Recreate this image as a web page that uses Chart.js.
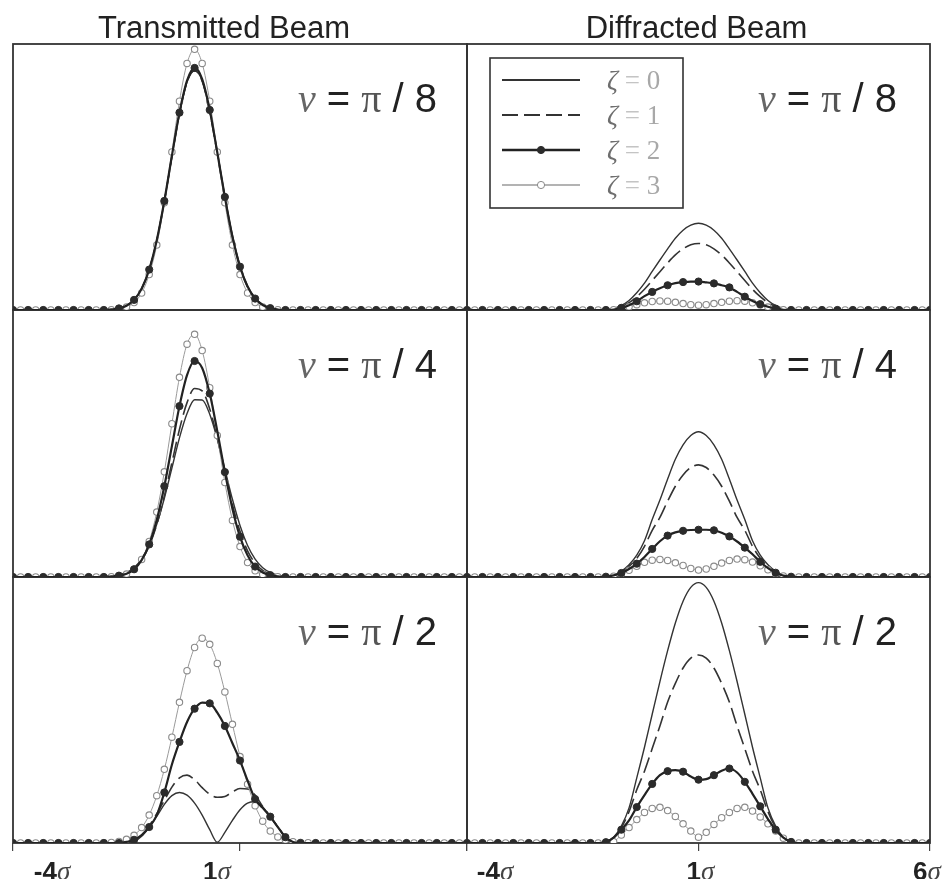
<!doctype html>
<html>
<head>
<meta charset="utf-8">
<title>Transmitted and Diffracted Beam</title>
<script src="https://cdn.jsdelivr.net/npm/chart.js@4.4.1/dist/chart.umd.min.js"></script>
<style>
  html, body { margin: 0; padding: 0; background: #fff; }
  #holder { width: 948px; height: 879px; overflow: hidden; }
</style>
</head>
<body>
<div id="holder"><canvas id="beams" width="948" height="879"></canvas></div>
<script>
// positions along the beam: -4 sigma .. 6 sigma in steps of sigma / 6
const xs = Array.from({length: 61}, (_, i) => -4 + i / 6);
const xTicks = [-4, 1, 6];
const nuDenoms = [8, 4, 2];
const zetas = [0, 1, 2, 3];
const columnTitles = ['Transmitted Beam', 'Diffracted Beam'];

// intensities (1 = full panel height)
// each array: 12 points for -4..-2.17, 31 points for -2..3, 18 points for 3.17..6
const trans8z0 = [0,0,0,0,0,0,0,0,0,0,0,0,
  0,.002,.006,.016,.038,.080,.152,.261,.408,.577,.738,.857,.900,.862,.750,.595,.428,.280,.166,.090,.044,.020,.008,.003,0,0,0,0,0,0,0,
  0,0,0,0,0,0,0,0,0,0,0,0,0,0,0,0,0,0];
const trans8z1 = [0,0,0,0,0,0,0,0,0,0,0,0,
  0,.002,.006,.016,.038,.080,.152,.261,.408,.577,.738,.857,.900,.860,.745,.588,.420,.272,.160,.086,.042,.018,.007,.002,0,0,0,0,0,0,0,
  0,0,0,0,0,0,0,0,0,0,0,0,0,0,0,0,0,0];
const trans8z2 = [0,0,0,0,0,0,0,0,0,0,0,0,
  0,.002,.006,.016,.038,.080,.152,.262,.410,.580,.742,.862,.910,.868,.752,.592,.425,.276,.163,.088,.043,.019,.007,.002,0,0,0,0,0,0,0,
  0,0,0,0,0,0,0,0,0,0,0,0,0,0,0,0,0,0];
const trans8z3 = [0,0,0,0,0,0,0,0,0,0,0,0,
  0,.001,.004,.011,.028,.064,.133,.244,.403,.594,.785,.927,.980,.927,.785,.594,.403,.244,.133,.064,.028,.011,.004,.001,0,0,0,0,0,0,0,
  0,0,0,0,0,0,0,0,0,0,0,0,0,0,0,0,0,0];

const trans4z0 = [0,0,0,0,0,0,0,0,0,0,0,0,
  .001,.003,.008,.017,.035,.068,.121,.197,.295,.408,.521,.612,.664,.663,.610,.517,.404,.291,.193,.118,.067,.035,.017,.007,.003,.001,0,0,0,0,0,
  0,0,0,0,0,0,0,0,0,0,0,0,0,0,0,0,0,0];
const trans4z1 = [0,0,0,0,0,0,0,0,0,0,0,0,
  .001,.002,.006,.014,.031,.063,.116,.196,.303,.428,.553,.653,.706,.697,.629,.520,.392,.271,.171,.098,.052,.025,.011,.004,.001,0,0,0,0,0,0,
  0,0,0,0,0,0,0,0,0,0,0,0,0,0,0,0,0,0];
const trans4z2 = [0,0,0,0,0,0,0,0,0,0,0,0,
  0,.002,.005,.012,.029,.063,.122,.214,.340,.490,.640,.756,.809,.783,.687,.546,.393,.256,.151,.081,.039,.017,.007,.002,0,0,0,0,0,0,0,
  0,0,0,0,0,0,0,0,0,0,0,0,0,0,0,0,0,0];
const trans4z3 = [0,0,0,0,0,0,0,0,0,0,0,0,
  0,.001,.004,.011,.029,.066,.133,.243,.394,.574,.748,.872,.909,.848,.709,.530,.354,.212,.114,.054,.023,.009,.003,.001,0,0,0,0,0,0,0,
  0,0,0,0,0,0,0,0,0,0,0,0,0,0,0,0,0,0];

const trans2z0 = [0,0,0,0,0,0,0,0,0,0,0,0,
  0,0,0,0,.005,.025,.060,.100,.145,.178,.190,.180,.150,.105,.050,.003,.040,.085,.125,.150,.155,.135,.098,.060,.023,.005,0,0,0,0,0,
  0,0,0,0,0,0,0,0,0,0,0,0,0,0,0,0,0,0];
const trans2z1 = [0,0,0,0,0,0,0,0,0,0,0,0,
  0,0,0,.003,.010,.030,.065,.110,.160,.210,.245,.255,.238,.208,.183,.172,.175,.192,.205,.203,.180,.137,.100,.061,.023,.005,0,0,0,0,0,
  0,0,0,0,0,0,0,0,0,0,0,0,0,0,0,0,0,0];
const trans2z2 = [0,0,0,0,0,0,0,0,0,0,0,0,
  0,0,0,.004,.012,.030,.060,.105,.190,.295,.380,.455,.505,.528,.525,.490,.440,.375,.310,.235,.165,.132,.099,.060,.022,.004,0,0,0,0,0,
  0,0,0,0,0,0,0,0,0,0,0,0,0,0,0,0,0,0];
const trans2z3 = [0,0,0,0,0,0,0,0,0,0,0,0,
  .001,.002,.006,.014,.029,.058,.105,.178,.277,.398,.529,.648,.735,.770,.747,.675,.568,.446,.325,.221,.140,.082,.045,.023,.011,.005,.002,.001,0,0,0,
  0,0,0,0,0,0,0,0,0,0,0,0,0,0,0,0,0,0];

const diff8z0 = [0,0,0,0,0,0,0,0,0,0,0,0,
  0,0,0,0,0,0,.001,.005,.017,.036,.065,.101,.145,.188,.230,.270,.300,.319,.326,.319,.300,.270,.230,.188,.145,.101,.065,.036,.017,.005,.001,
  0,0,0,0,0,0,0,0,0,0,0,0,0,0,0,0,0,0];
const diff8z1 = [0,0,0,0,0,0,0,0,0,0,0,0,
  0,0,0,0,0,0,.001,.004,.013,.028,.050,.078,.111,.144,.177,.207,.230,.245,.250,.245,.230,.207,.177,.144,.111,.078,.050,.028,.013,.004,.001,
  0,0,0,0,0,0,0,0,0,0,0,0,0,0,0,0,0,0];
const diff8z2 = [0,0,0,0,0,0,0,0,0,0,0,0,
  0,0,0,0,0,0,0,.002,.008,.018,.033,.052,.068,.082,.093,.101,.105,.107,.107,.104,.100,.093,.085,.068,.050,.034,.022,.012,.005,.001,0,
  0,0,0,0,0,0,0,0,0,0,0,0,0,0,0,0,0,0];
const diff8z3 = [0,0,0,0,0,0,0,0,0,0,0,0,
  0,0,0,0,0,0,0,.001,.005,.012,.020,.027,.032,.034,.033,.029,.024,.020,.018,.020,.024,.029,.033,.035,.033,.027,.019,.011,.005,.001,0,
  0,0,0,0,0,0,0,0,0,0,0,0,0,0,0,0,0,0];

const diff4z0 = [0,0,0,0,0,0,0,0,0,0,0,0,
  0,0,0,0,0,0,.001,.007,.022,.046,.082,.136,.215,.288,.367,.441,.495,.530,.544,.530,.495,.441,.367,.288,.215,.136,.082,.046,.022,.007,.001,
  0,0,0,0,0,0,0,0,0,0,0,0,0,0,0,0,0,0];
const diff4z1 = [0,0,0,0,0,0,0,0,0,0,0,0,
  0,0,0,0,0,0,.001,.006,.020,.040,.070,.115,.175,.223,.284,.340,.382,.410,.420,.410,.382,.340,.284,.223,.175,.115,.070,.040,.020,.006,.001,
  0,0,0,0,0,0,0,0,0,0,0,0,0,0,0,0,0,0];
const diff4z2 = [0,0,0,0,0,0,0,0,0,0,0,0,
  0,0,0,0,0,0,.001,.006,.015,.030,.050,.075,.105,.134,.155,.167,.173,.176,.177,.177,.175,.166,.152,.133,.110,.085,.057,.033,.016,.005,.001,
  0,0,0,0,0,0,0,0,0,0,0,0,0,0,0,0,0,0];
const diff4z3 = [0,0,0,0,0,0,0,0,0,0,0,0,
  0,0,0,0,0,0,0,.003,.012,.025,.040,.055,.063,.066,.062,.053,.043,.032,.026,.030,.040,.052,.062,.067,.065,.056,.042,.027,.013,.004,0,
  0,0,0,0,0,0,0,0,0,0,0,0,0,0,0,0,0,0];

const diff2z0 = [0,0,0,0,0,0,0,0,0,0,0,0,
  0,0,0,0,0,0,.004,.022,.064,.132,.245,.360,.484,.607,.723,.827,.909,.961,.979,.961,.909,.827,.723,.607,.484,.360,.245,.132,.064,.022,.004,
  0,0,0,0,0,0,0,0,0,0,0,0,0,0,0,0,0,0];
const diff2z1 = [0,0,0,0,0,0,0,0,0,0,0,0,
  0,0,0,0,0,0,.004,.020,.058,.118,.200,.270,.355,.440,.530,.600,.658,.695,.707,.695,.658,.600,.530,.440,.355,.270,.200,.118,.058,.020,.004,
  0,0,0,0,0,0,0,0,0,0,0,0,0,0,0,0,0,0];
const diff2z2 = [0,0,0,0,0,0,0,0,0,0,0,0,
  0,0,0,0,0,0,.003,.020,.050,.085,.135,.180,.222,.255,.270,.274,.268,.250,.238,.240,.255,.272,.280,.265,.230,.185,.138,.090,.050,.020,.004,
  0,0,0,0,0,0,0,0,0,0,0,0,0,0,0,0,0,0];
const diff2z3 = [0,0,0,0,0,0,0,0,0,0,0,0,
  0,0,0,0,0,0,0,.005,.030,.058,.088,.115,.130,.134,.122,.100,.072,.045,.022,.040,.070,.095,.115,.130,.134,.120,.098,.072,.045,.018,.003,
  0,0,0,0,0,0,0,0,0,0,0,0,0,0,0,0,0,0];

const transRows = [
  [trans8z0, trans8z1, trans8z2, trans8z3],
  [trans4z0, trans4z1, trans4z2, trans4z3],
  [trans2z0, trans2z1, trans2z2, trans2z3]
];
const diffRows = [
  [diff8z0, diff8z1, diff8z2, diff8z3],
  [diff4z0, diff4z1, diff4z2, diff4z3],
  [diff2z0, diff2z1, diff2z2, diff2z3]
];

const SANS = '"Liberation Sans", Arial, Helvetica, sans-serif';
const SERIF = '"Liberation Serif", "Times New Roman", serif';

const rowAxes = ['y8', 'y4', 'y2'];
const colAxes = ['xT', 'xD'];

// drawing order: filled dots on top, then open circles, then the plain lines
const zetaOrder = [2, 3, 0, 1];
const zetaStyles = [
  {borderColor: '#333', borderWidth: 1.4, pointRadius: 0},
  {borderColor: '#333', borderWidth: 1.6, borderDash: [16, 6], pointRadius: 0},
  {borderColor: '#222', borderWidth: 2.2, pointRadius: c => (c.dataIndex % 2 ? 0 : 3.6),
    pointBackgroundColor: '#2b2b2b', pointBorderColor: '#2b2b2b', pointBorderWidth: 1},
  {borderColor: '#9a9a9a', borderWidth: 1, pointRadius: 3.2,
    pointBackgroundColor: '#fff', pointBorderColor: '#8a8a8a', pointBorderWidth: 1.1}
];

const datasets = [];
[transRows, diffRows].forEach((rows, col) => {
  rows.forEach((curves, row) => {
    curves.forEach((vals, z) => {
      if (vals.length !== xs.length) console.error('bad length', col, row, z, vals.length);
      datasets.push(Object.assign({
        label: columnTitles[col] + ' nu=pi/' + nuDenoms[row] + ' zeta=' + zetas[z],
        data: xs.map((x, i) => ({x: x, y: vals[i]})),
        xAxisID: colAxes[col],
        yAxisID: rowAxes[row],
        order: zetaOrder[z],
        cubicInterpolationMode: 'monotone',
        fill: false
      }, zetaStyles[z]));
    });
  });
});

function drawRuns(ctx, runs, x, y, align) {
  let w = 0;
  runs.forEach(r => { ctx.font = r.font; r.w = ctx.measureText(r.text).width; w += r.w; });
  let cx = align === 'right' ? x - w : (align === 'center' ? x - w / 2 : x);
  ctx.textAlign = 'left';
  ctx.textBaseline = 'alphabetic';
  runs.forEach(r => { ctx.font = r.font; ctx.fillStyle = r.color; ctx.fillText(r.text, cx, y); cx += r.w; });
}

// where the printed tick labels sit relative to their tick
const tickLabelShift = {xT: {'-4': 39, '1': -23}, xD: {'-4': 28, '1': 2, '6': -3}};

const figurePlugin = {
  id: 'figure',
  beforeDatasetsDraw(chart) {
    const ctx = chart.ctx;
    ctx.save();
    ctx.strokeStyle = '#333';
    ctx.lineWidth = 1.8;
    colAxes.forEach(xid => rowAxes.forEach(yid => {
      const sx = chart.scales[xid], sy = chart.scales[yid];
      const l = sx.getPixelForValue(-4), r = sx.getPixelForValue(6);
      const t = sy.getPixelForValue(1), b = sy.getPixelForValue(0);
      ctx.strokeRect(l, t, r - l, b - t);
    }));
    ctx.restore();
  },
  afterDatasetsDraw(chart) {
    const ctx = chart.ctx;
    ctx.save();
    const top = chart.scales.y8.getPixelForValue(1);

    // column titles
    const titleShift = [-16, -2];
    colAxes.forEach((xid, c) => {
      const sx = chart.scales[xid];
      const mid = (sx.getPixelForValue(-4) + sx.getPixelForValue(6)) / 2 + titleShift[c];
      drawRuns(ctx, [{text: columnTitles[c], font: '31px ' + SANS, color: '#222'}], mid, top - 6, 'center');
    });

    // nu = pi / n labels
    const nuRight = [30, 33];
    colAxes.forEach((xid, c) => {
      const right = chart.scales[xid].getPixelForValue(6) - nuRight[c];
      rowAxes.forEach((yid, r) => {
        const base = chart.scales[yid].getPixelForValue(1) + 68;
        drawRuns(ctx, [
          {text: 'ν', font: 'italic 40px ' + SERIF, color: '#666'},
          {text: ' = ', font: '40px ' + SANS, color: '#222'},
          {text: 'π', font: '40px ' + SERIF, color: '#555'},
          {text: ' / ' + nuDenoms[r], font: '40px ' + SANS, color: '#222'}
        ], right, base, 'right');
      });
    });

    // legend box in the upper diffracted panel
    const sx = chart.scales.xD;
    const lx = sx.getPixelForValue(-4) + 23, ly = top + 14;
    ctx.fillStyle = '#fff';
    ctx.fillRect(lx, ly, 193, 150);
    ctx.strokeStyle = '#333';
    ctx.lineWidth = 1.6;
    ctx.strokeRect(lx, ly, 193, 150);
    zetas.forEach((z, i) => {
      const st = zetaStyles[i];
      const y = ly + 22 + i * 35;
      ctx.save();
      ctx.strokeStyle = st.borderColor;
      ctx.lineWidth = st.borderWidth + 0.4;
      ctx.setLineDash(st.borderDash || []);
      ctx.beginPath();
      ctx.moveTo(lx + 12, y);
      ctx.lineTo(lx + 90, y);
      ctx.stroke();
      ctx.restore();
      if (i >= 2) {
        ctx.beginPath();
        ctx.arc(lx + 51, y, 3.6, 0, Math.PI * 2);
        ctx.fillStyle = st.pointBackgroundColor;
        ctx.fill();
        ctx.lineWidth = 1;
        ctx.strokeStyle = st.pointBorderColor;
        ctx.stroke();
      }
      drawRuns(ctx, [
        {text: 'ζ', font: 'italic 27px ' + SERIF, color: '#6e6e6e'},
        {text: ' = ', font: '27px ' + SERIF, color: '#c4c4c4'},
        {text: String(z), font: '27px ' + SERIF, color: '#a8a8a8'}
      ], lx + 117, y + 9, 'left');
    });

    // tick labels under the bottom row
    colAxes.forEach(xid => {
      const scale = chart.scales[xid];
      scale.ticks.forEach(t => {
        const dx = tickLabelShift[xid][String(t.value)];
        if (dx === undefined) return;
        drawRuns(ctx, [
          {text: String(t.value), font: 'bold 26px ' + SANS, color: '#222'},
          {text: 'σ', font: 'italic 27px ' + SERIF, color: '#444'}
        ], scale.getPixelForValue(t.value) + dx, 880, 'center');
      });
    });
    ctx.restore();
  }
};

function xAxis(weight, stackWeight) {
  return {
    type: 'linear', position: 'bottom', stack: 'cols', stackWeight: stackWeight, weight: weight,
    min: -4, max: 6,
    afterBuildTicks: s => { s.ticks = xTicks.map(v => ({value: v})); },
    afterFit: s => { s.height = 36; },
    ticks: {display: false},
    grid: {drawOnChartArea: false, drawTicks: true, tickLength: 8, color: '#444', lineWidth: 1.2},
    border: {display: false}
  };
}
function yAxis(weight, stackWeight) {
  return {type: 'linear', position: 'left', stack: 'rows', stackWeight: stackWeight, weight: weight,
    min: 0, max: 1, display: false};
}

new Chart(document.getElementById('beams').getContext('2d'), {
  type: 'line',
  data: {datasets: datasets},
  options: {
    responsive: false,
    animation: false,
    events: [],
    layout: {padding: {left: 13, top: 44, right: 18, bottom: 0}},
    scales: {
      xT: xAxis(1, 454),
      xD: xAxis(2, 463),
      y8: yAxis(3, 266),
      y4: yAxis(2, 267),
      y2: yAxis(1, 266)
    },
    plugins: {legend: {display: false}, tooltip: {enabled: false}}
  },
  plugins: [figurePlugin]
});
</script>
</body>
</html>
